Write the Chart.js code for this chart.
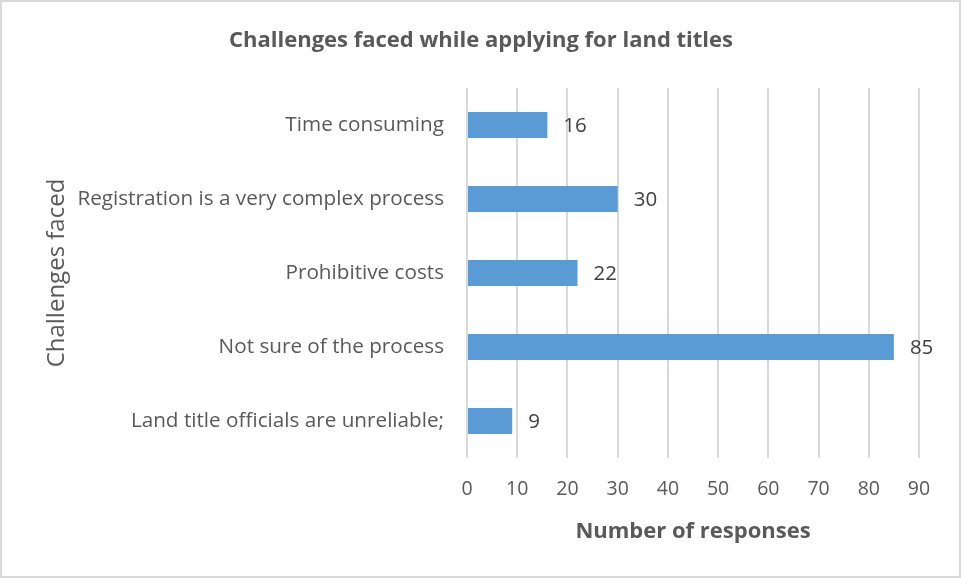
<!DOCTYPE html>
<html>
<head>
<meta charset="utf-8">
<script src="https://cdn.jsdelivr.net/npm/chart.js@4"></script>
<style>
  body { margin: 0; background: #fff; }
  #wrap { width: 961px; height: 578px; box-sizing: border-box; border: 2px solid #d9d9d9; }
  #wrap canvas { display: block; }
</style>
</head>
<body>
<div id="wrap"><canvas id="chart" width="957" height="574"></canvas></div>
<script>
const categories = [
    'Time consuming',
    'Registration is a very complex process',
    'Prohibitive costs',
    'Not sure of the process',
    'Land title officials are unreliable;'
];
const responses = [16, 30, 22, 85, 9];
const xTicks = [0, 10, 20, 30, 40, 50, 60, 70, 80, 90];

const FONT = '"Open Sans", sans-serif';

// writes each bar's value just past its end
const valueLabels = {
    id: 'valueLabels',
    afterDatasetsDraw(chart) {
        const ctx = chart.ctx;
        const meta = chart.getDatasetMeta(0);
        ctx.save();
        ctx.font = '20.5px ' + FONT;
        ctx.fillStyle = '#404040';
        ctx.textAlign = 'left';
        ctx.textBaseline = 'middle';
        meta.data.forEach((bar, i) => {
            ctx.fillText(String(chart.data.datasets[0].data[i]), bar.x + 16, bar.y + 1);
        });
        ctx.restore();
    }
};

new Chart(document.getElementById('chart'), {
    type: 'bar',
    data: {
        labels: categories,
        datasets: [{
            data: responses,
            backgroundColor: '#5b9bd5',
            borderWidth: 0,
            barPercentage: 0.35,
            categoryPercentage: 1
        }]
    },
    plugins: [valueLabels],
    options: {
        indexAxis: 'y',
        responsive: false,
        animation: false,
        layout: { padding: { left: 41, right: 40, top: 0, bottom: 31 } },
        plugins: {
            legend: { display: false },
            tooltip: { enabled: false },
            title: {
                display: true,
                text: 'Challenges faced while applying for land titles',
                color: '#595959',
                font: { family: FONT, size: 22, weight: 'bold', lineHeight: 1.2 },
                padding: { top: 26, bottom: 33.6 }
            }
        },
        scales: {
            x: {
                min: 0,
                max: 90,
                afterBuildTicks: (axis) => { axis.ticks = xTicks.map(v => ({ value: v })); },
                afterFit: (axis) => { axis.height = 87; },
                grid: { color: '#d9d9d9', lineWidth: 2, drawTicks: false },
                border: { display: false },
                ticks: {
                    color: '#595959',
                    padding: 20,
                    font: { family: FONT, size: 19.5 }
                },
                title: {
                    display: true,
                    text: 'Number of responses',
                    color: '#595959',
                    font: { family: FONT, size: 22, weight: 'bold', lineHeight: 1.2 },
                    padding: 0
                }
            },
            y: {
                afterFit: (axis) => { axis.width = 424; },
                grid: { display: false, drawTicks: false },
                border: { display: false },
                ticks: {
                    color: '#595959',
                    padding: 23,
                    font: { family: FONT, size: 20.7 }
                },
                title: {
                    display: true,
                    text: 'Challenges faced',
                    color: '#595959',
                    font: { family: FONT, size: 24, lineHeight: 1.2 },
                    padding: 0
                }
            }
        }
    }
});
</script>
</body>
</html>
